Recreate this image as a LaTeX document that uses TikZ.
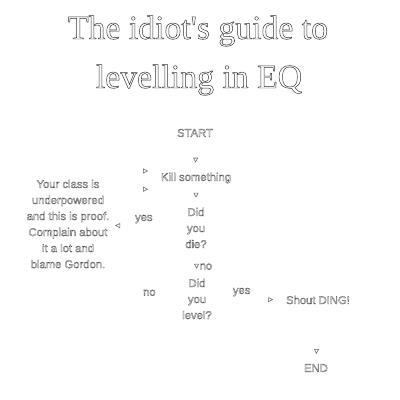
\documentclass[tikz,border=0pt]{standalone}
\usepackage{fontspec}
\setmainfont{Liberation Serif}
\setsansfont{Liberation Sans}
\usetikzlibrary{arrows.meta,backgrounds}
% outlined (stroked) glyphs
\newcommand{\hollowtext}[1][0.2]{\special{pdf:literal direct #1 w 1 Tr}}
\tikzset{
  flow/.style={draw=white,-{Triangle[open,length=3.5pt,width=3.5pt,color=black!60]}},
  stepbox/.style={font=\sffamily\fontsize{8}{11.4}\selectfont\hollowtext,text=black!70,align=center,inner xsep=9pt,inner ysep=7pt},
  lbl/.style={font=\sffamily\fontsize{8}{11.4}\selectfont\hollowtext,text=black!70,inner sep=2pt},
  headline/.style={font=\fontsize{24}{30}\selectfont\hollowtext[0.35],text=black!80,anchor=base}
}

\begin{document}
\begin{tikzpicture}[x=0.025cm,y=-0.025cm]
\useasboundingbox (0,0) rectangle (400,400);
\node[headline] (title1) at (198,39) {The idiot\textquotesingle s guide to};
\node[headline] (title2) at (199,88) {levelling in EQ};

\node[stepbox] (start) at (195,133) {START};
\node[stepbox] (kill) at (196,178) {Kill something};
\node[stepbox] (die) at (196,228) {Did\\you\\die?};
\node[stepbox] (level) at (197,299) {Did\\you\\level?};
\node[stepbox] (shout) at (318,300) {Shout DING!};
\node[stepbox] (end) at (316,368) {END};
\node[stepbox,inner xsep=4pt] (complain) at (68,224) {Your class is\\underpowered\\and this is proof.\\Complain about\\it a lot and\\blame Gordon.};

\begin{scope}[on background layer]
\draw[flow] (start) -- (kill);
\draw[flow] (kill) -- (die);
\draw[flow] (die) -- node[lbl,above]{yes} (complain);
\draw[flow] (complain.north) |- ([yshift=5pt]kill.west);
\draw[flow] (die) -- node[lbl,right,pos=0.8]{no} (level);
\draw[flow] (level.west) -- node[lbl,above]{no} ++(-40,0) |- ([yshift=-8pt]kill.west);
\draw[flow] (level) -- node[lbl,above,pos=0.35]{yes} (shout);
\draw[flow] (shout) -- (end);
\end{scope}
\end{tikzpicture}
\end{document}
